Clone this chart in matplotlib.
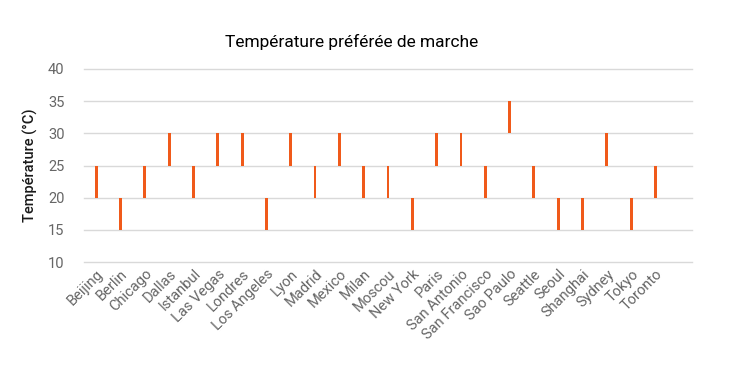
import matplotlib
matplotlib.use("Agg")
import matplotlib.pyplot as plt

# villes et plage de température (min, max)
villes = ['Beijing', 'Berlin', 'Chicago', 'Dallas', 'Istanbul', 'Las Vegas',
          'Londres', 'Los Angeles', 'Lyon', 'Madrid', 'Mexico', 'Milan',
          'Moscou', 'New York', 'Paris', 'San Antonio', 'San Francisco',
          'Sao Paulo', 'Seattle', 'Seoul', 'Shanghai', 'Sydney', 'Tokyo', 'Toronto']
t_min = [20, 15, 20, 25, 20, 25, 25, 15, 25, 20, 25, 20,
         20, 15, 25, 25, 20, 30, 20, 15, 15, 25, 15, 20]
t_max = [25, 20, 25, 30, 25, 30, 30, 20, 30, 25, 30, 25,
         25, 20, 30, 30, 25, 35, 25, 20, 20, 30, 20, 25]
y_ticks = [10, 15, 20, 25, 30, 35, 40]

plt.rcParams['font.family'] = ['Roboto', 'DejaVu Sans']

fig = plt.figure(figsize=(7.3, 3.68), dpi=100)
ax = fig.add_axes([84/730, 1-262/368, (692-84)/730, (262-69)/368])

x = list(range(len(villes)))
hauteur = [b - a for a, b in zip(t_min, t_max)]
ax.bar(x, hauteur, bottom=t_min, width=0.12, color='#F05A1A', zorder=3)

ax.set_ylim(10, 40)
ax.set_xlim(-0.5, len(villes) + 0.5)
ax.set_yticks(y_ticks)
# lignes de grille à la main pour ne pas couper celle du bas
for t in y_ticks:
    ax.axhline(t, color='#D9D9D9', linewidth=1, zorder=0, clip_on=False)
for s in ax.spines.values():
    s.set_visible(False)
ax.tick_params(axis='both', length=0, colors='#666666', labelsize=10.5)
ax.tick_params(axis='y', pad=14)
ax.set_xticks(x)
ax.set_xticklabels(villes, rotation=45, ha='right', rotation_mode='anchor')

ax.set_ylabel('Température (°C)', fontsize=10.5, color='#1a1a1a', fontweight='medium')
ax.yaxis.set_label_coords(-0.075, 0.5)

fig.text(352/730, 1-42/368, 'Température préférée de marche', fontsize=12.5,
         ha='center', va='center', color='black')

fig.savefig('out.png', dpi=100)
